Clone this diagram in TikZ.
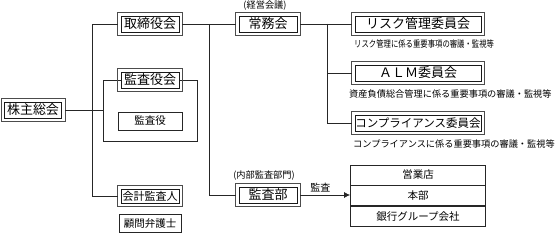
\documentclass[tikz,border=0pt]{standalone}
\usepackage{fontspec}
\setmainfont{Noto Sans CJK JP}
\usetikzlibrary{arrows.meta}
\begin{document}
\begin{tikzpicture}[x=1pt,y=-1pt,
  line/.style={line width=0.8pt, draw=black!85},
  dbox/.style={draw=black!90, line width=0.8pt, fill=white,
     minimum width=#1, minimum height=16pt, inner sep=0pt, font=\fontsize{13}{13}\selectfont},
  dbox/.default=58pt,
  outerline/.style={draw=black!70, line width=0.8pt},
  sbox/.style={draw=black!85, line width=0.8pt, fill=white, minimum width=#1, minimum height=18pt,
     inner sep=0pt, font=\fontsize{10.5}{10.5}\selectfont},
  sbox/.default=64pt,
  rowbox/.style={draw=black!85, line width=0.8pt, minimum width=135pt, minimum height=20pt,
     inner sep=0pt, font=\fontsize{10.5}{10.5}\selectfont},
  note/.style={inner sep=0pt, font=\fontsize{9.2}{9.2}\selectfont},
]
\useasboundingbox (0,0) rectangle (557,235);

\coordinate (trunkx) at (92,0);
\coordinate (bx) at (209,0);
\coordinate (cx) at (327,0);

% enclosure for the audit board
\node[line, draw, minimum width=94pt, minimum height=61pt, inner sep=0pt] (encl) at (150,110.5) {};

\node[dbox=57pt] (kabu) at (33,110) {株主総会};
\node[dbox=58pt] (tori) at (150,24) {取締役会};
\node[dbox=58pt] (kyk) at (150,80) {監査役会};
\node[sbox=64pt] (kyu) at (150,121) {監査役};
\node[dbox=58pt, minimum height=14pt, font=\fontsize{11}{11}\selectfont] (kaikei) at (150,196) {会計監査人};
\node[sbox=62pt, minimum height=18pt] (komon) at (150,223) {顧問弁護士};

\node[dbox=58pt] (joumu) at (268,24) {常務会};
\node[note] (lab1) at (265,6) {(経営会議)};
\node[dbox=58pt] (kansabu) at (268,195) {監査部};
\node[note] (lab2) at (264,176) {(内部監査部門)};

\node[dbox=126pt] (risk) at (418,24) {リスク管理委員会};
\node[note, anchor=west] (rtext) at (354,44) {\scalebox{0.8}[1]{リスク管理に係る重要事項の審議・監視等}};
\node[dbox=126pt] (alm) at (418,73) {ＡＬＭ委員会};
\node[note, anchor=west] (atext) at (349,94) {資産負債総合管理に係る重要事項の審議・監視等};
\node[dbox=126pt, font=\fontsize{11.5}{11.5}\selectfont] (comp) at (418,123) {コンプライアンス委員会};
\node[note, anchor=west] (ctext) at (353,144) {コンプライアンスに係る重要事項の審議・監視等};

\node[rowbox] (r1) at (418,175) {営業店};
\node[rowbox, anchor=north] (r2) at (r1.south) {本部};
\node[rowbox, anchor=north] (r3) at (r2.south) {銀行グループ会社};

% outer frames of the double-bordered boxes
\foreach \n in {kabu,tori,kyk,kaikei,joumu,kansabu,risk,alm,comp}
  \draw[outerline] ([xshift=-3pt,yshift=3pt]\n.north west) rectangle ([xshift=3pt,yshift=-3pt]\n.south east);

% connectors
\draw[line] ([xshift=-3pt]tori.west) -- (tori.west -| trunkx) |- ([xshift=-3pt]kaikei.west);
\draw[line] ([xshift=3pt]kabu.east) -- (kabu.east -| encl.west);
\draw[line] ([xshift=3pt]tori.east) -- ([xshift=-3pt]joumu.west);
\draw[line] (tori.east -| bx) |- ([xshift=-3pt]kansabu.west);
\draw[line] ([xshift=3pt]joumu.east) -- ([xshift=-3pt]risk.west);
\draw[line] (joumu.east -| cx) |- ([xshift=-3pt]alm.west);
\draw[line] (joumu.east -| cx) |- ([xshift=-3pt]comp.west);
\draw[line, -{Latex[length=6pt,width=6pt]}] ([xshift=3pt]kansabu.east) -- node[above=3pt, pos=0.4, inner sep=0pt, font=\fontsize{10}{10}\selectfont] {監査} (kansabu.east -| r2.west);
\end{tikzpicture}
\end{document}
